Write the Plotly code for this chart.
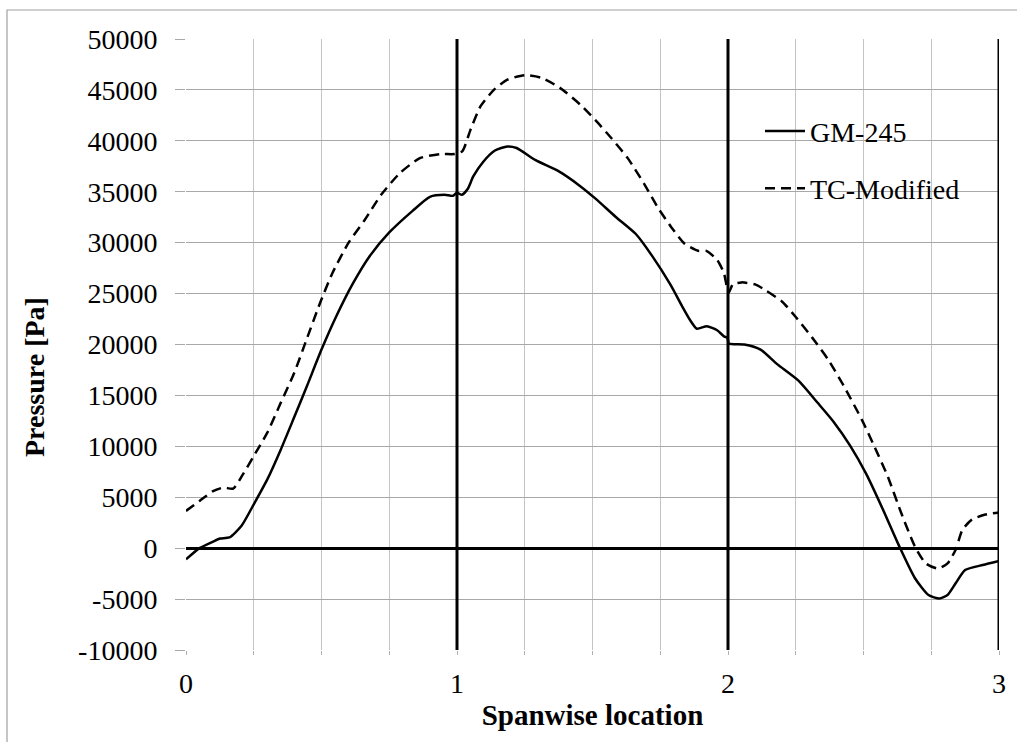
import plotly.graph_objects as go

# Spanwise location / pressure data
gm_x = [0, 0.05, 0.10, 0.126, 0.16, 0.205, 0.25, 0.30, 0.35, 0.396, 0.446, 0.50, 0.555,
        0.616, 0.677, 0.75, 0.835, 0.90, 0.954, 0.985, 1.0, 1.018, 1.04, 1.06, 1.097, 1.14,
        1.186, 1.22, 1.29, 1.376, 1.45, 1.51, 1.585, 1.66, 1.72, 1.787, 1.835, 1.86, 1.885,
        1.922, 1.96, 1.985, 1.998, 2.003, 2.06, 2.12, 2.18, 2.26, 2.33, 2.39, 2.45, 2.51,
        2.57, 2.63, 2.69, 2.74, 2.78, 2.81, 2.84, 2.875, 2.94, 3.0]
gm_y = [-1100, 0, 650, 950, 1050, 2200, 4300, 6750, 9700, 12650, 15900, 19500, 22800,
        26000, 28650, 31000, 33100, 34500, 34700, 34600, 34900, 34700, 35300, 36500, 37950, 39050,
        39450, 39300, 38100, 37000, 35650, 34350, 32550, 30850, 28700, 25900, 23550, 22400, 21550,
        21800, 21400, 20800, 20650, 20100, 20000, 19500, 18100, 16450, 14300, 12400, 10100, 7300,
        3900, 300, -2950, -4600, -4950, -4600, -3450, -2150, -1650, -1250]

tc_x = [0, 0.05, 0.10, 0.137, 0.174, 0.21, 0.25, 0.30, 0.35, 0.40, 0.445, 0.495, 0.54,
        0.60, 0.66, 0.72, 0.79, 0.863, 0.937, 0.99, 1.02, 1.05, 1.087, 1.136, 1.186, 1.25,
        1.31, 1.38, 1.455, 1.51, 1.57, 1.63, 1.69, 1.74, 1.79, 1.84, 1.89, 1.92, 1.96, 1.985,
        1.997, 2.003, 2.018, 2.05, 2.1, 2.14, 2.2, 2.25, 2.31, 2.37, 2.43, 2.495, 2.54, 2.59,
        2.64, 2.69, 2.73, 2.775, 2.81, 2.84, 2.865, 2.9, 2.95, 3.0]
tc_y = [3660, 4640, 5600, 5950, 5850, 7250, 9050, 11350, 14300, 17250, 20500, 24100, 27000,
        30000, 32250, 34700, 36850, 38300, 38700, 38700, 39000, 41100, 43400, 45000, 46000, 46450,
        46200, 45200, 43550, 42050, 40250, 38300, 35800, 33500, 31550, 29900, 29200, 29200, 28300, 27000,
        25500, 25100, 25900, 26100, 25900, 25300, 24200, 22700, 20700, 18500, 15800, 12550, 10000, 7000,
        3400, 150, -1500, -2000, -1500, -150, 1800, 2800, 3300, 3500]

series_names = ["GM-245", "TC-Modified"]
x_ticks = [0, 1, 2, 3]
y_ticks = list(range(-10000, 50001, 5000))
section_lines = [1, 2, 3]

FONT = "Liberation Serif"

fig = go.Figure()
fig.add_trace(go.Scatter(x=gm_x, y=gm_y, mode="lines", name=series_names[0], legendgroup="a",
                         line=dict(color="black", width=2.5, shape="spline", smoothing=0.6)))
fig.add_trace(go.Scatter(x=tc_x, y=tc_y, mode="lines", name=series_names[1], legendgroup="b",
                         line=dict(color="black", width=2.5, dash="10px,6px", shape="spline", smoothing=0.6)))

for xv in section_lines:
    fig.add_shape(type="line", xref="x", yref="y", x0=xv, x1=xv, y0=-10000, y1=50000,
                  line=dict(color="black", width=3), layer="above")

# outer chart border
fig.add_shape(type="rect", xref="paper", yref="paper",
              x0=(7 - 186) / 813, x1=(1030 - 186) / 813,
              y0=(650 - 760) / 611, y1=(650 - 10) / 611,
              line=dict(color="#a0a0a0", width=1.2), layer="below")

# y-axis title (centred on the chart area, as in the reference)
fig.add_annotation(text="<b>Pressure [Pa]</b>", textangle=-90, showarrow=False,
                   xref="paper", yref="paper", x=(34 - 186) / 813, y=(650 - 377) / 611,
                   xanchor="center", yanchor="middle",
                   font=dict(family=FONT, size=28, color="black"))

fig.update_layout(
    width=1017, height=742,
    margin=dict(l=186, r=18, t=39, b=92),
    paper_bgcolor="white", plot_bgcolor="white",
    font=dict(family=FONT, size=28, color="black"),
    showlegend=True,
    legend=dict(x=0.706, y=0.89, xanchor="left", yanchor="top", bgcolor="rgba(0,0,0,0)",
                font=dict(family=FONT, size=28, color="black"), itemwidth=40,
                tracegroupgap=18, traceorder="grouped"),
    xaxis=dict(range=[0, 3], tickvals=x_ticks, ticktext=[str(v) for v in x_ticks],
               showgrid=False, zeroline=False, showline=False,
               ticks="", ticklabelstandoff=14,
               tickfont=dict(family=FONT, size=28),
               minor=dict(dtick=0.25, showgrid=True, gridcolor="#c4c4c4", gridwidth=1,
                          ticks="outside", ticklen=4, tickcolor="#b0b0b0"),
               title=dict(text="<b>Spanwise location</b>", standoff=6,
                          font=dict(family=FONT, size=29))),
    yaxis=dict(range=[-10000, 50000], tickvals=y_ticks, ticktext=[str(v) for v in y_ticks],
               showgrid=True, gridcolor="#a8a8a8", gridwidth=1,
               zeroline=True, zerolinecolor="black", zerolinewidth=3,
               showline=False, ticks="outside", ticklen=10, tickcolor="#a8a8a8",
               ticklabelstandoff=12,
               tickfont=dict(family=FONT, size=28)),
)

fig.write_html("out.html")
